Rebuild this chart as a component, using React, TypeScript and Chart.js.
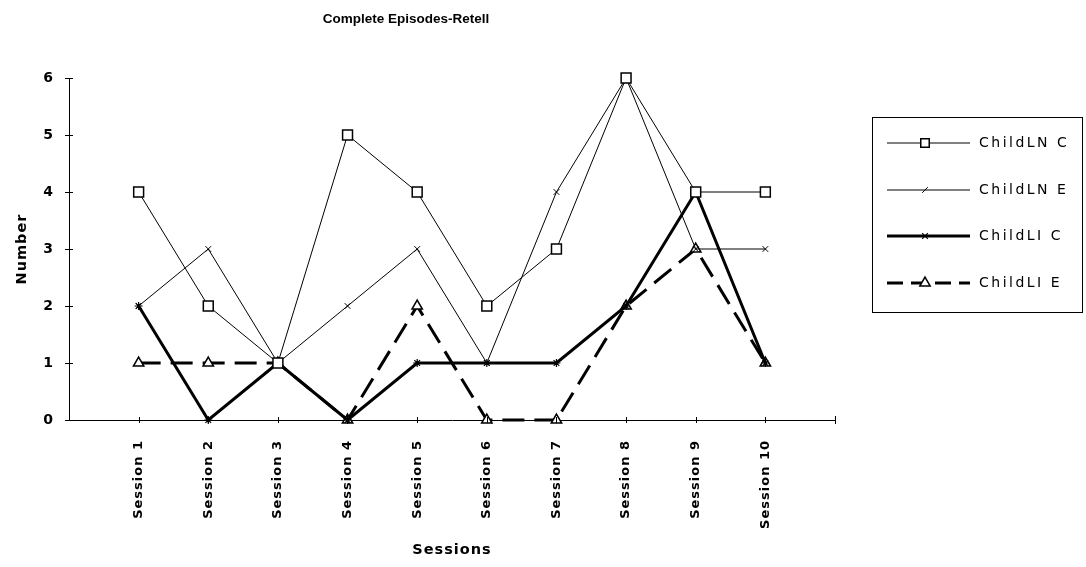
import React, { useEffect, useRef } from 'react';
import { Chart, registerables } from 'chart.js';

Chart.register(...registerables);

const chartTitle = 'Complete Episodes-Retell';
const xTitle = 'Sessions';
const yTitle = 'Number';
const sessions = [
  'Session 1', 'Session 2', 'Session 3', 'Session 4', 'Session 5',
  'Session 6', 'Session 7', 'Session 8', 'Session 9', 'Session 10',
];
const seriesNames = ['ChildLN C', 'ChildLN E', 'ChildLI C', 'ChildLI E'];
const childLNC = [4, 2, 1, 5, 4, 2, 3, 6, 4, 4];
const childLNE = [2, 3, 1, 2, 3, 1, 4, 6, 3, 3];
const childLIC = [2, 0, 1, 0, 1, 1, 1, 2, 4, 1];
const childLIE = [1, 1, 1, 0, 2, 0, 0, 2, 3, 1];
const yMin = 0;
const yMax = 6;

const AXIS_FONT = "'DejaVu Sans', sans-serif";

type Style = {
  width: number;
  dash: number[];
  point: string;
  radius: number;
  pointWidth: number;
};

const styles: Style[] = [
  { width: 1, dash: [], point: 'rect', radius: 7, pointWidth: 1.5 },
  { width: 1, dash: [], point: 'crossRot', radius: 4, pointWidth: 1 },
  { width: 3, dash: [], point: 'star', radius: 4, pointWidth: 1.2 },
  { width: 3, dash: [22, 10], point: 'triangle', radius: 6, pointWidth: 1.5 },
];

function drawMarker(ctx: CanvasRenderingContext2D, style: string, x: number, y: number, r: number, lw: number) {
  ctx.save();
  ctx.setLineDash([]);
  ctx.lineWidth = lw;
  ctx.strokeStyle = '#000';
  ctx.fillStyle = '#fff';
  ctx.beginPath();
  if (style === 'rect') {
    const s = r * Math.SQRT1_2;
    ctx.rect(x - s, y - s, 2 * s, 2 * s);
    ctx.fill();
    ctx.stroke();
  } else if (style === 'triangle') {
    ctx.moveTo(x, y - r);
    ctx.lineTo(x + r * Math.sin(Math.PI / 3), y + r / 2);
    ctx.lineTo(x - r * Math.sin(Math.PI / 3), y + r / 2);
    ctx.closePath();
    ctx.fill();
    ctx.stroke();
  } else if (style === 'crossRot') {
    const s = r * Math.SQRT1_2;
    ctx.moveTo(x - s, y + s);
    ctx.lineTo(x + s, y - s);
    ctx.stroke();
  } else if (style === 'star') {
    const s = r * Math.SQRT1_2;
    ctx.moveTo(x - s, y - s);
    ctx.lineTo(x + s, y + s);
    ctx.moveTo(x - s, y + s);
    ctx.lineTo(x + s, y - s);
    ctx.moveTo(x - r, y);
    ctx.lineTo(x + r, y);
    ctx.stroke();
  }
  ctx.restore();
}

const decorPlugin = {
  id: 'decor',
  beforeDraw(chart: any) {
    (chart.ctx as any).letterSpacing = '1px';
  },
  afterDraw(chart: any) {
    const ctx: CanvasRenderingContext2D = chart.ctx;
    const xs = chart.scales.x;
    const ys = chart.scales.y;
    ctx.save();
    (ctx as any).letterSpacing = '0px';
    ctx.strokeStyle = '#000';
    ctx.lineWidth = 1;
    ctx.setLineDash([]);
    // crossing tick marks
    ys.ticks.forEach((t: any) => {
      const py = Math.round(ys.getPixelForValue(t.value)) + 0.5;
      ctx.beginPath();
      ctx.moveTo(xs.left - 4, py);
      ctx.lineTo(xs.left + 4, py);
      ctx.stroke();
    });
    xs.ticks.forEach((t: any) => {
      if (t.value === xs.min) return;
      const px = Math.round(xs.getPixelForValue(t.value)) + 0.5;
      const h = t.value === xs.max ? 4 : 3;
      ctx.beginPath();
      ctx.moveTo(px, ys.bottom - h);
      ctx.lineTo(px, ys.bottom + h);
      ctx.stroke();
    });

    // title
    ctx.fillStyle = '#000';
    ctx.font = "bold 13.5px 'Liberation Sans', Arial, sans-serif";
    ctx.textAlign = 'center';
    ctx.textBaseline = 'middle';
    ctx.fillText(chartTitle, 406, 19);

    // legend
    const bx = 872.5, by = 117.5, bw = 210, bh = 195;
    ctx.lineWidth = 1;
    ctx.strokeRect(bx, by, bw, bh);
    const rows = [143, 190, 236, 283];
    chart.data.datasets.forEach((ds: any, i: number) => {
      const st = styles[i];
      const y = rows[i];
      ctx.save();
      ctx.lineWidth = st.width;
      ctx.setLineDash(st.dash.length ? [16, 8] : []);
      ctx.beginPath();
      ctx.moveTo(887, y);
      ctx.lineTo(970, y);
      ctx.stroke();
      ctx.restore();
      drawMarker(ctx, st.point, 925, y, Math.min(st.radius, 6), st.pointWidth);
      ctx.save();
      (ctx as any).letterSpacing = '2.5px';
      ctx.fillStyle = '#000';
      ctx.font = `14px ${AXIS_FONT}`;
      ctx.textAlign = 'left';
      ctx.textBaseline = 'middle';
      ctx.fillText(ds.label, 979, y);
      ctx.restore();
    });
    ctx.restore();
  },
};

export default function App() {
  const ref = useRef<HTMLCanvasElement | null>(null);

  useEffect(() => {
    if (!ref.current) return;
    const series = [childLNC, childLNE, childLIC, childLIE];
    const chart = new Chart(ref.current, {
      type: 'line',
      data: {
        datasets: series.map((vals, i) => ({
          label: seriesNames[i],
          data: vals.map((v, k) => ({ x: k + 1, y: v })),
          borderColor: '#000',
          borderWidth: styles[i].width,
          borderDash: styles[i].dash,
          pointStyle: styles[i].point as any,
          pointRadius: styles[i].radius,
          pointHoverRadius: styles[i].radius,
          pointBorderWidth: styles[i].pointWidth,
          pointBorderColor: '#000',
          pointBackgroundColor: '#fff',
          tension: 0,
          fill: false,
          clip: false as any,
        })),
      },
      options: {
        animation: false,
        responsive: false,
        events: [],
        layout: { padding: { top: 78, right: 251, left: 0, bottom: 0 } },
        plugins: {
          legend: { display: false },
          title: { display: false },
          tooltip: { enabled: false },
        },
        scales: {
          x: {
            type: 'linear',
            min: 0,
            max: sessions.length + 1,
            afterFit: (s: any) => { s.height = 147; },
            grid: { display: false, drawTicks: false, tickLength: 0 },
            border: { display: true, color: '#000', width: 1 },
            ticks: {
              stepSize: 1,
              autoSkip: false,
              maxRotation: 90,
              minRotation: 90,
              padding: 20,
              color: '#000',
              font: { family: AXIS_FONT, size: 13, weight: 'bold' },
              callback: (v: any) => sessions[Number(v) - 1] ?? '',
            },
            title: {
              display: true,
              text: xTitle,
              color: '#000',
              font: { family: AXIS_FONT, size: 14.5, weight: 'bold' },
              padding: { top: 0, bottom: 8 },
            },
          },
          y: {
            min: yMin,
            max: yMax,
            afterFit: (s: any) => { s.width = 69; },
            grid: { display: false, drawTicks: false, tickLength: 0 },
            border: { display: true, color: '#000', width: 1 },
            ticks: {
              stepSize: 1,
              padding: 15,
              color: '#000',
              font: { family: AXIS_FONT, size: 14, weight: 'bold' },
            },
            title: {
              display: true,
              text: yTitle,
              color: '#000',
              font: { family: AXIS_FONT, size: 14.5, weight: 'bold' },
              padding: { top: 13.3, bottom: 0 },
            },
          },
        },
      },
      plugins: [decorPlugin],
    });
    return () => chart.destroy();
  }, []);

  return (
    <div style={{ position: 'fixed', left: 0, top: 0, width: 1086, height: 567, background: '#fff' }}>
      <canvas ref={ref} width={1086} height={567} style={{ display: 'block' }} />
    </div>
  );
}
